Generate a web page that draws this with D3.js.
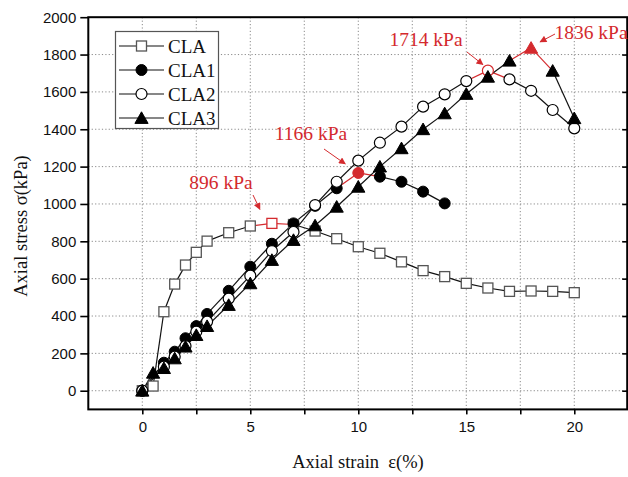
<!DOCTYPE html>
<html>
<head>
<meta charset="utf-8">
<script src="https://cdn.jsdelivr.net/npm/d3@7"></script>
<style>
  html, body { margin: 0; padding: 0; background: #fff; }
  svg { display: block; }
</style>
</head>
<body>
<svg id="chart" width="628" height="477"></svg>
<script>
// Axial strain (%) sampled for each test
const strainCLA  = [0, 0.5, 1, 1.5, 2, 2.5, 3, 4, 5, 6, 7, 8, 9, 10, 11, 12, 13, 14, 15, 16, 17, 18, 19, 20];
const stressCLA  = [0, 25, 423, 571, 673, 741, 801, 846, 882, 896, 890, 855, 814, 771, 736, 690, 643, 611, 575, 550, 532, 534, 532, 525];

const strainCLA1 = [0, 1, 1.5, 2, 2.5, 3, 4, 5, 6, 7, 8, 9, 10, 11, 12, 13, 14];
const stressCLA1 = [0, 150, 209, 281, 346, 411, 535, 664, 787, 896, 990, 1084, 1166, 1146, 1119, 1066, 1003];

const strainCLA2 = [0, 1, 1.5, 2, 2.5, 3, 4, 5, 6, 7, 8, 9, 10, 11, 12, 13, 14, 15, 16, 17, 18, 19, 20];
const stressCLA2 = [0, 129, 182, 239, 316, 370, 493, 616, 748, 850, 994, 1119, 1232, 1328, 1414, 1521, 1587, 1658, 1714, 1667, 1606, 1503, 1405];

const strainCLA3 = [0, 0.5, 1, 1.5, 2, 2.5, 3, 4, 5, 6, 7, 8, 9, 10, 11, 12, 13, 14, 15, 16, 17, 18, 19, 20];
const stressCLA3 = [0, 96, 121, 173, 236, 298, 346, 459, 575, 700, 807, 885, 985, 1092, 1200, 1298, 1400, 1485, 1589, 1681, 1767, 1836, 1713, 1459];

const seriesNames = ["CLA", "CLA1", "CLA2", "CLA3"];
const markerKinds = ["square", "circleFilled", "circleOpen", "triangle"];

const xTicks = [0, 5, 10, 15, 20];
const xGrid  = [0, 2.5, 5, 7.5, 10, 12.5, 15, 17.5, 20];
const yTicks = [0, 200, 400, 600, 800, 1000, 1200, 1400, 1600, 1800, 2000];

const xTitle = "Axial strain  ε(%)";
const yTitle = "Axial stress σ(kPa)";

const series = [
  { name: seriesNames[0], xs: strainCLA,  ys: stressCLA,  kind: markerKinds[0] },
  { name: seriesNames[1], xs: strainCLA1, ys: stressCLA1, kind: markerKinds[1] },
  { name: seriesNames[2], xs: strainCLA2, ys: stressCLA2, kind: markerKinds[2] },
  { name: seriesNames[3], xs: strainCLA3, ys: stressCLA3, kind: markerKinds[3] }
];
series.forEach(s => {
  s.points = s.xs.map((x, i) => ({ x, y: s.ys[i] }));
  s.peak = d3.maxIndex(s.ys);
});

const RED = "#d42a2e";
const SERIF = "'Liberation Serif', 'Times New Roman', serif";
const SANS = "'Liberation Sans', Arial, sans-serif";
const svg = d3.select("#chart");

const x = d3.scaleLinear().domain([-2.5, 22.45]).range([88.3, 627.2]);
const y = d3.scaleLinear().domain([-100, 2000]).range([409.4, 17.2]);
const [x0, x1] = x.range();
const [y0, y1] = y.range();

// dotted grid
const grid = svg.append("g").attr("stroke", "#8a8a8a").attr("stroke-width", 1)
  .attr("stroke-dasharray", "1.2,2.2");
grid.selectAll("line.v").data(xGrid).join("line").attr("class", "v")
  .attr("x1", d => x(d)).attr("x2", d => x(d)).attr("y1", y1).attr("y2", y0);
grid.selectAll("line.h").data(yTicks.filter(t => t < 2000)).join("line").attr("class", "h")
  .attr("x1", x0).attr("x2", x1).attr("y1", d => y(d)).attr("y2", d => y(d));

// axes
const xAxis = d3.axisBottom(x).tickValues(xGrid).tickSize(5)
  .tickFormat(d => xTicks.includes(d) ? d3.format("d")(d) : "");
const gx = svg.append("g").attr("transform", `translate(0,${y0})`).call(xAxis);
gx.select(".domain").remove();
gx.selectAll(".tick line").attr("stroke", "#000").attr("stroke-width", 1.6);
gx.selectAll(".tick text").attr("font-family", SANS)
  .attr("font-size", 15).attr("fill", "#111").attr("dy", "0.95em");

const yAxis = d3.axisLeft(y).tickValues(yTicks).tickSize(8).tickPadding(4).tickFormat(d3.format("d"));
const gy = svg.append("g").attr("transform", `translate(${x0},0)`).call(yAxis);
gy.select(".domain").remove();
gy.selectAll(".tick line").attr("stroke", "#000").attr("stroke-width", 1.6);
gy.selectAll(".tick text").attr("font-family", SANS)
  .attr("font-size", 15).attr("fill", "#111");

const yAxisR = d3.axisLeft(y).tickValues(yTicks.filter(t => t < 2000)).tickSize(5).tickFormat("");
const gyr = svg.append("g").attr("transform", `translate(${x1},0)`).call(yAxisR);
gyr.select(".domain").remove();
gyr.selectAll(".tick line").attr("stroke", "#000").attr("stroke-width", 1.6)
  .attr("x2", -5);

// frame
svg.append("rect").attr("x", x0).attr("y", y1).attr("width", x1 - x0).attr("height", y0 - y1)
  .attr("fill", "none").attr("stroke", "#000").attr("stroke-width", 2);

// axis titles
svg.append("text").attr("x", 358).attr("y", 468).attr("text-anchor", "middle")
  .attr("font-family", SERIF).attr("font-size", 18.5)
  .style("white-space", "pre").attr("fill", "#111").text(xTitle);
svg.append("text").attr("transform", "translate(27,226) rotate(-90)").attr("text-anchor", "middle")
  .attr("font-family", SERIF).attr("font-size", 18.5)
  .attr("fill", "#111").text(yTitle);

// marker drawing
function drawMarker(g, kind, cx, cy, red) {
  const stroke = red ? RED : (kind === "square" ? "#555" : "#000");
  if (kind === "square") {
    g.append("rect").attr("x", cx - 5).attr("y", cy - 5).attr("width", 10).attr("height", 10)
      .attr("fill", "#fff").attr("stroke", stroke).attr("stroke-width", 1.3);
  } else if (kind === "circleFilled") {
    g.append("circle").attr("cx", cx).attr("cy", cy).attr("r", 5.5)
      .attr("fill", red ? RED : "#000").attr("stroke", red ? RED : "#000").attr("stroke-width", 1);
  } else if (kind === "circleOpen") {
    g.append("circle").attr("cx", cx).attr("cy", cy).attr("r", 5.5)
      .attr("fill", "#fff").attr("stroke", stroke).attr("stroke-width", 1.2);
  } else {
    const p = d3.path();
    p.moveTo(cx, cy - 6.2); p.lineTo(cx + 6.6, cy + 5.4); p.lineTo(cx - 6.6, cy + 5.4); p.closePath();
    g.append("path").attr("d", p.toString()).attr("fill", red ? RED : "#000")
      .attr("stroke", red ? RED : "#000").attr("stroke-width", 1);
  }
}

// series lines (segments touching the peak in red)
series.forEach(s => {
  const g = svg.append("g");
  for (let i = 0; i < s.points.length - 1; i++) {
    const a = s.points[i], b = s.points[i + 1];
    const red = (i === s.peak || i + 1 === s.peak);
    g.append("line").attr("x1", x(a.x)).attr("y1", y(a.y)).attr("x2", x(b.x)).attr("y2", y(b.y))
      .attr("stroke", red ? RED : "#111").attr("stroke-width", 1.2);
  }
});
series.forEach(s => {
  const g = svg.append("g");
  s.points.forEach((p, i) => drawMarker(g, s.kind, x(p.x), y(p.y), i === s.peak));
});

// peak annotations
const defs = svg.append("defs");
defs.append("marker").attr("id", "arrowRed").attr("viewBox", "0 0 10 10")
  .attr("refX", 9).attr("refY", 5).attr("markerWidth", 9).attr("markerHeight", 7)
  .attr("markerUnits", "userSpaceOnUse").attr("orient", "auto")
  .append("path").attr("d", "M0,0 L10,5 L0,10 Z").attr("fill", RED);

const notes = [
  { s: 0, tx: 221, ty: 189, from: [253, 195], off: [-12, -14] },
  { s: 1, tx: 311, ty: 140, from: [324, 149], off: [-13, -9] },
  { s: 2, tx: 426, ty: 46,  from: [467, 52],  off: [-5, -6] },
  { s: 3, tx: 591, ty: 39,  from: [555, 34],  off: [9, -6] }
];
notes.forEach(n => {
  const s = series[n.s];
  const pk = s.points[s.peak];
  svg.append("text").attr("x", n.tx).attr("y", n.ty).attr("text-anchor", "middle")
    .attr("font-family", SERIF).attr("font-size", 19.5)
    .attr("fill", RED).text(`${pk.y} kPa`);
  svg.append("line").attr("x1", n.from[0]).attr("y1", n.from[1])
    .attr("x2", x(pk.x) + n.off[0]).attr("y2", y(pk.y) + n.off[1])
    .attr("stroke", RED).attr("stroke-width", 1).attr("marker-end", "url(#arrowRed)");
});

// legend
const lg = svg.append("g");
lg.append("rect").attr("x", 115.5).attr("y", 31.5).attr("width", 103).attr("height", 97)
  .attr("fill", "#fff").attr("stroke", "#555").attr("stroke-width", 1.2);
series.forEach((s, i) => {
  const cy = 46 + i * 24;
  lg.append("line").attr("x1", 119).attr("x2", 164).attr("y1", cy).attr("y2", cy)
    .attr("stroke", "#111").attr("stroke-width", 1.2);
  drawMarker(lg, s.kind, 141.5, cy, false);
  lg.append("text").attr("x", 168).attr("y", cy + 6.5)
    .attr("font-family", SERIF).attr("font-size", 19)
    .attr("fill", "#111").text(s.name);
});
</script>
</body>
</html>
